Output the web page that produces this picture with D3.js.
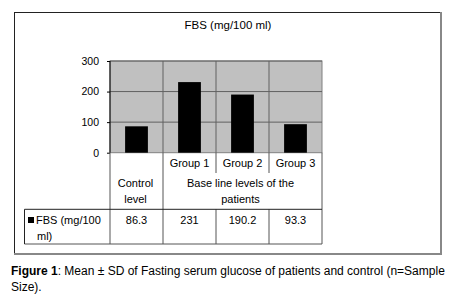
<!DOCTYPE html>
<html>
<head>
<meta charset="utf-8">
<script src="https://cdn.jsdelivr.net/npm/d3@7"></script>
<style>
  body { margin: 0; background: #fff; }
  text { font-family: "Liberation Sans", Arial, sans-serif; }
</style>
</head>
<body>
<svg id="chart" width="466" height="300"></svg>
<script>
var categories = ["Control level", "Group 1", "Group 2", "Group 3"]
var values = [86.3, 231, 190.2, 93.3]
var valueLabels = ["86.3", "231", "190.2", "93.3"]
var yTicks = [0, 100, 200, 300]
var groupLabels = ["", "Group 1", "Group 2", "Group 3"]
var seriesName = ["FBS (mg/100", "ml)"]
var title = "FBS (mg/100 ml)"

var svg = d3.select("#chart")

var plot = { left: 110, right: 322, top: 61, bottom: 152.7 }

var xScale = d3.scaleBand()
    .domain(categories)
    .range([plot.left, plot.right])
    .padding(0)

var yScale = d3.scaleLinear()
    .domain([0, 300])
    .range([plot.bottom, plot.top])

// outer frame
svg.append("rect")
    .attr("x", 14.5).attr("y", 12.5)
    .attr("width", 426).attr("height", 241)
    .attr("fill", "#fff")
    .attr("stroke", "#222")
    .attr("stroke-width", 1)
svg.append("line").attr("x1", 441).attr("x2", 441).attr("y1", 12).attr("y2", 254)
    .attr("stroke", "#888").attr("stroke-width", 2)
svg.append("line").attr("x1", 14).attr("x2", 442).attr("y1", 254).attr("y2", 254)
    .attr("stroke", "#888").attr("stroke-width", 2)

svg.append("text")
    .attr("x", 228).attr("y", 29)
    .attr("text-anchor", "middle")
    .style("font-size", "11.5px")
    .text(title)

// plot area
svg.append("rect")
    .attr("x", plot.left).attr("y", plot.top)
    .attr("width", plot.right - plot.left).attr("height", plot.bottom - plot.top)
    .attr("fill", "#c0c0c0")
    .attr("stroke", "#808080")

// grid lines
svg.append("g")
    .selectAll("line")
    .data(yTicks.filter(d => d > 0))
    .enter()
    .append("line")
    .attr("x1", plot.left).attr("x2", plot.right)
    .attr("y1", d => yScale(d)).attr("y2", d => yScale(d))
    .attr("stroke", "#606060")

svg.append("g")
    .selectAll("line")
    .data(categories.slice(1))
    .enter()
    .append("line")
    .attr("x1", d => xScale(d)).attr("x2", d => xScale(d))
    .attr("y1", plot.top).attr("y2", plot.bottom)
    .attr("stroke", "#606060")

// bars
var barW = xScale.bandwidth() * 0.43
svg.append("g")
    .selectAll("rect")
    .data(values)
    .enter()
    .append("rect")
    .attr("x", (d, i) => xScale(categories[i]) + (xScale.bandwidth() - barW) / 2)
    .attr("y", d => yScale(d))
    .attr("width", barW)
    .attr("height", d => yScale(0) - yScale(d))
    .attr("fill", "#000")

// y axis
var yAxisGen = d3.axisLeft(yScale).tickValues(yTicks).tickSize(3).tickPadding(8)
var yAxis = svg.append("g")
    .attr("transform", "translate(" + plot.left + ",0)")
    .call(yAxisGen)
yAxis.select(".domain").remove()
yAxis.append("line").attr("y1", plot.top).attr("y2", plot.bottom).attr("stroke", "#000")
yAxis.selectAll(".tick text").style("font-size", "10.5px").attr("fill", "#000")
    .style("font-family", "Liberation Sans, Arial, sans-serif")

// table
var tableTop = plot.bottom, rowSplit = 173, headBottom = 209.3, tableBottom = 244, tableLeft = 24.5
var lineColor = "#555"
var tbl = svg.append("g").attr("stroke", lineColor).attr("stroke-width", 1)

tbl.append("line").attr("x1", plot.left).attr("x2", plot.left).attr("y1", tableTop).attr("y2", tableBottom)
tbl.append("line").attr("x1", xScale("Group 1")).attr("x2", xScale("Group 1")).attr("y1", tableTop).attr("y2", tableBottom)
tbl.append("line").attr("x1", plot.right).attr("x2", plot.right).attr("y1", tableTop).attr("y2", tableBottom)
tbl.selectAll(".gsep")
    .data(["Group 2", "Group 3"])
    .enter()
    .append("line")
    .attr("x1", d => xScale(d)).attr("x2", d => xScale(d))
    .attr("y1", tableTop).attr("y2", rowSplit)
tbl.selectAll(".dsep")
    .data(["Group 2", "Group 3"])
    .enter()
    .append("line")
    .attr("x1", d => xScale(d)).attr("x2", d => xScale(d))
    .attr("y1", headBottom).attr("y2", tableBottom)
tbl.append("line").attr("x1", tableLeft).attr("x2", plot.right).attr("y1", headBottom).attr("y2", headBottom).attr("stroke", "#222")
tbl.append("line").attr("x1", tableLeft).attr("x2", plot.right).attr("y1", tableBottom).attr("y2", tableBottom)
tbl.append("line").attr("x1", tableLeft).attr("x2", tableLeft).attr("y1", headBottom).attr("y2", tableBottom).attr("stroke", "#222")

var fs = "11px"
svg.append("g")
    .selectAll("text")
    .data(groupLabels)
    .enter()
    .append("text")
    .attr("x", (d, i) => xScale(categories[i]) + xScale.bandwidth() / 2)
    .attr("y", 167)
    .attr("text-anchor", "middle")
    .style("font-size", fs)
    .text(d => d)

svg.append("text")
    .attr("text-anchor", "middle")
    .style("font-size", fs)
    .selectAll("tspan")
    .data(["Control", "level"])
    .enter()
    .append("tspan")
    .attr("x", xScale("Control level") + xScale.bandwidth() / 2 - 1)
    .attr("y", (d, i) => 187 + i * 15.5)
    .text(d => d)

var spanMid = (xScale("Group 1") + plot.right) / 2 - 2
svg.append("text")
    .attr("text-anchor", "middle")
    .style("font-size", fs)
    .selectAll("tspan")
    .data(["Base line levels of the", "patients"])
    .enter()
    .append("tspan")
    .attr("x", spanMid)
    .attr("y", (d, i) => 187 + i * 15.5)
    .text(d => d)

// data row
svg.append("rect").attr("x", 28).attr("y", 217).attr("width", 6).attr("height", 6).attr("fill", "#000")
svg.append("text")
    .style("font-size", fs)
    .selectAll("tspan")
    .data(seriesName)
    .enter()
    .append("tspan")
    .attr("x", (d, i) => i === 0 ? 36 : 37)
    .attr("y", (d, i) => 224 + i * 16)
    .text(d => d)

svg.append("g")
    .selectAll("text")
    .data(valueLabels)
    .enter()
    .append("text")
    .attr("x", (d, i) => xScale(categories[i]) + xScale.bandwidth() / 2)
    .attr("y", 224)
    .attr("text-anchor", "middle")
    .style("font-size", fs)
    .text(d => d)

// caption
var cap = svg.append("text")
    .attr("x", 11).attr("y", 275)
    .style("font-size", "12px")
cap.append("tspan").style("font-weight", "bold").text("Figure 1")
cap.append("tspan").text(": Mean \u00b1 SD of Fasting serum glucose of patients and control (n=Sample")
svg.append("text")
    .attr("x", 11).attr("y", 291)
    .style("font-size", "12px")
    .text("Size).")
</script>
</body>
</html>
